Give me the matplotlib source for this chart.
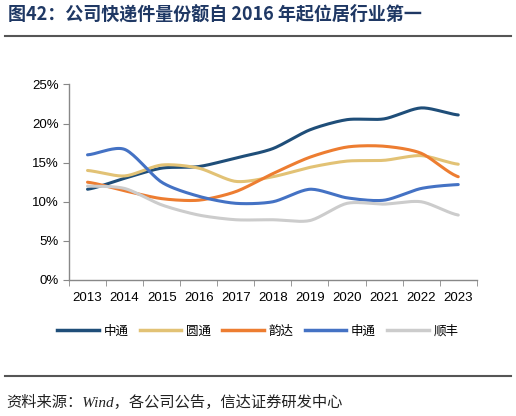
import matplotlib
matplotlib.use("Agg")
import matplotlib.pyplot as plt
from matplotlib.lines import Line2D
import numpy as np

plt.rcParams['font.family'] = ['Liberation Sans', 'Noto Sans CJK SC', 'DejaVu Sans']

years = ['2013', '2014', '2015', '2016', '2017', '2018', '2019', '2020', '2021', '2022', '2023']
zto = [11.6, 13.0, 14.3, 14.5, 15.6, 16.8, 19.2, 20.5, 20.6, 22.0, 21.1]
yto = [14.0, 13.3, 14.7, 14.3, 12.6, 13.2, 14.4, 15.2, 15.3, 15.9, 14.8]
yunda = [12.5, 11.4, 10.4, 10.2, 11.3, 13.6, 15.7, 17.0, 17.1, 16.2, 13.2]
sto = [16.0, 16.7, 12.5, 10.7, 9.8, 10.0, 11.6, 10.5, 10.2, 11.7, 12.2]
sf = [12.0, 11.7, 9.6, 8.3, 7.7, 7.7, 7.6, 9.8, 9.7, 10.0, 8.3]

names = ['中通', '圆通', '韵达', '申通', '顺丰']
series = [zto, yto, yunda, sto, sf]
colors = ['#1f4e79', '#e2c275', '#ed7d31', '#4472c4', '#cccccc']


def smooth(x, y, n=20):
    # Catmull-Rom style smoothing through the data points (like Excel's smoothed line)
    x = np.asarray(x, float)
    y = np.asarray(y, float)
    px = np.concatenate([[2 * x[0] - x[1]], x, [2 * x[-1] - x[-2]]])
    py = np.concatenate([[y[0]], y, [y[-1]]])
    xs, ys = [], []
    t = np.linspace(0, 1, n, endpoint=False)
    for i in range(1, len(px) - 2):
        for arr, out in ((px, xs), (py, ys)):
            p0, p1, p2, p3 = arr[i - 1], arr[i], arr[i + 1], arr[i + 2]
            m1 = (p2 - p0) / 2 * 0.8
            m2 = (p3 - p1) / 2 * 0.8
            h00 = 2 * t**3 - 3 * t**2 + 1
            h10 = t**3 - 2 * t**2 + t
            h01 = -2 * t**3 + 3 * t**2
            h11 = t**3 - t**2
            out.extend(h00 * p1 + h10 * m1 + h01 * p2 + h11 * m2)
    xs.append(x[-1])
    ys.append(y[-1])
    return np.array(xs), np.array(ys)


fig = plt.figure(figsize=(5.16, 4.16), dpi=100)
ax = fig.add_axes([0.1337, 0.327, 0.7903, 0.470])

xpos = np.arange(len(years))
for vals, c in zip(series, colors):
    sx, sy = smooth(xpos, vals)
    ax.plot(sx, sy, color=c, lw=2.2, solid_capstyle='round')

ax.set_xlim(-0.5, len(years) - 0.5)
ax.set_ylim(0, 25)
ax.set_yticks([0, 5, 10, 15, 20, 25])
ax.set_yticklabels([f'{v}%' for v in [0, 5, 10, 15, 20, 25]], fontsize=9.5)
ax.set_xticks(xpos)
ax.set_xticklabels(years, fontsize=9.5)
ax.set_xticks(np.arange(-0.5, len(years)), minor=True)
ax.tick_params(axis='x', which='major', length=0, pad=9)
ax.tick_params(axis='x', which='minor', length=4, color='#888888', direction='out')
ax.tick_params(axis='y', length=4, color='#888888', direction='out')
for s in ['top', 'right']:
    ax.spines[s].set_visible(False)
for s in ['left', 'bottom']:
    ax.spines[s].set_color('#888888')
    ax.spines[s].set_linewidth(1.0)

handles = [Line2D([0], [0], color=c, lw=2.5) for c in colors]
fig.legend(handles, names, loc='center', bbox_to_anchor=(0.5, 1 - 331 / 416), ncol=5,
           frameon=False, prop={'family': ['Noto Sans CJK SC'], 'size': 9},
           handlelength=3.3, columnspacing=0.9, handletextpad=0.4)

fig.text(0.016, 1 - 14 / 416, '图42：公司快递件量份额自 2016 年起位居行业第一', fontsize=13,
         fontweight='bold', color='#1f3864', va='center', ha='left',
         family=['Noto Sans CJK SC', 'DejaVu Sans'])
fig.add_artist(Line2D([0.01, 0.99], [1 - 36 / 416] * 2, color='#555555', lw=1.5))
fig.add_artist(Line2D([0.01, 0.99], [1 - 376 / 416] * 2, color='#555555', lw=1.5))
fig.text(0.012, 1 - 402 / 416, '资料来源：Wind，各公司公告，信达证券研发中心', fontsize=11,
         style='italic', color='#222222', va='center', ha='left',
         family=['Liberation Serif', 'Noto Sans CJK SC', 'DejaVu Sans'])

fig.savefig('out.png', dpi=100)
